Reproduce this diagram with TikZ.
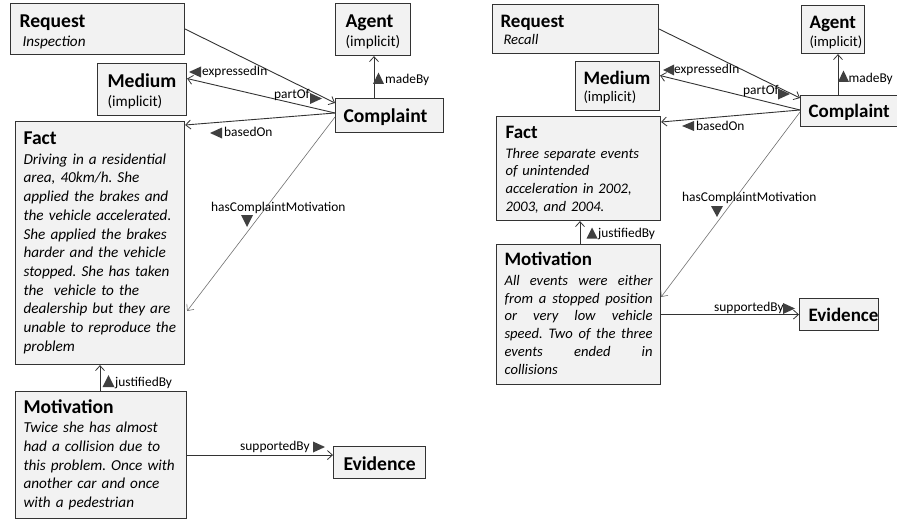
\documentclass[tikz,border=0pt]{standalone}
\usepackage{fontspec}
\setmainfont{Carlito}
\usetikzlibrary{arrows.meta}
\definecolor{boxf}{HTML}{F2F2F2}
\definecolor{bordc}{HTML}{333333}
\definecolor{linec}{HTML}{333333}
\definecolor{thinc}{HTML}{707070}
\definecolor{tric}{HTML}{404040}
\newcommand{\hdL}{\fontsize{19.6}{18.7}\selectfont\bfseries}
\newcommand{\hdR}{\fontsize{19}{17.7}\selectfont\bfseries}
\newcommand{\Ln}[1]{\mbox{#1}}
\newcommand{\Jn}[1]{\leavevmode\hbox to 148pt{\spaceskip=\fontdimen2\font plus 1fil\relax #1}}
\hyphenpenalty=10000
\exhyphenpenalty=10000
\frenchspacing
\tikzset{
  box/.style={draw=bordc, fill=boxf, line width=1.1pt, anchor=north west, inner ysep=0pt, align=left},
  fontL/.style={font=\fontsize{15.2}{18.7}\selectfont\frenchspacing},
  fontR/.style={font=\fontsize{14.6}{17.7}\selectfont\frenchspacing},
  conn/.style={draw=linec, line width=0.9pt, -{Straight Barb[length=5pt,width=9pt,line width=0.8pt]}},
  thinconn/.style={draw=thinc, line width=0.6pt, -{Straight Barb[length=5pt,width=9pt,line width=0.6pt]}},
  lbl/.style={font=\fontsize{13.4}{15}\selectfont, inner sep=0pt, anchor=base west, text=black},
  tri/.style={fill=tric}
}
\begin{document}
\begin{tikzpicture}[x=1pt,y=-1pt]
\path[use as bounding box, fill=white] (0,0) rectangle (897,519);

% ---------------- left panel ----------------
\node[box, fontL, inner xsep=9pt, text width=156pt, text height=24pt, text depth=27pt] (reqL) at (10,3)
  {\Ln{\hdL Request}\\\hspace*{3pt}\itshape Inspection};
\node[box, fontL, inner xsep=10pt, text width=55pt, text height=24pt, text depth=28pt] (agentL) at (335,3)
  {\Ln{\hdL Agent}\\\Ln{(implicit)}};
\node[box, fontL, inner xsep=10pt, text width=69pt, text height=24pt, text depth=28pt] (medL) at (97,63)
  {\Ln{\hdL Medium}\\\Ln{(implicit)}};
\node[box, fontL, inner xsep=8pt, text width=92pt, text height=23.5pt, text depth=10.5pt] (compL) at (335,98)
  {\Ln{\hdL Complaint}};
\node[box, fontL, inner xsep=8pt, text width=153pt, text height=23pt, text depth=220pt] (factL) at (15,121)
  {\Ln{\hdL Fact}\\[1pt]\itshape
   \Ln{Driving in a residential}\\
   \Ln{area, 40km/h. She}\\
   \Ln{applied the brakes and}\\
   \Ln{the vehicle accelerated.}\\
   \Ln{She applied the brakes}\\
   \Ln{harder and the vehicle}\\
   \Ln{stopped. She has taken}\\
   \Ln{the\ \ vehicle to the}\\
   \Ln{dealership but they are}\\
   \Ln{unable to reproduce the}\\
   \Ln{problem}};
\node[box, fontL, inner xsep=8pt, text width=155pt, text height=22pt, text depth=105pt] (motL) at (15,391)
  {\Ln{\hdL Motivation}\\[0.6pt]\itshape
   \Ln{Twice she has almost}\\
   \Ln{had a collision due to}\\
   \Ln{this problem. Once with}\\
   \Ln{another car and once}\\
   \Ln{with a pedestrian}};
\node[box, fontL, inner xsep=10pt, text width=72pt, text height=24pt, text depth=8pt] (evL) at (333,446)
  {\Ln{\hdL Evidence}};

% connectors left
\draw[conn] (reqL.east) -- ([yshift=-5pt]compL.north west);
\draw[conn] ([yshift=-15pt]compL.north west) -- ([yshift=11pt]medL.east);
\draw[conn] ([yshift=-15pt]compL.north west) -- ([yshift=-4pt]factL.north east);
\draw[thinconn] ([yshift=-19pt]compL.north west) -- ([yshift=-190pt,xshift=2pt]factL.north east);
\draw[conn] ([xshift=39pt]compL.north west) -- ([xshift=39pt]compL.north west |- agentL.south);
\draw[conn] ([xshift=85pt]motL.north west) -- ([xshift=85pt]motL.north west |- factL.south);
\draw[conn] (motL.east) -- (motL.east -| evL.west);

% labels left
\node[lbl] (l1) at (202,76) {expressedIn};
\node[lbl] (l2) at (274,98.5) {partOf};
\node[lbl] (l3) at (385,83.5) {madeBy};
\node[lbl] (l4) at (224,136.5) {basedOn};
\node[lbl] (l5) at (211,211.5) {hasComplaintMotivation};
\node[lbl] (l6) at (115,386.5) {justifiedBy};
\node[lbl] (l7) at (240,450.5) {supportedBy};
\fill[tri] (189,72) -- (201,66.5) -- (201,77.5) -- cycle;
\fill[tri] (322,98.5) -- (310,93) -- (310,104) -- cycle;
\fill[tri] (378.5,72.5) -- (373,84) -- (384,84) -- cycle;
\fill[tri] (210,133) -- (222,127.5) -- (222,138.5) -- cycle;
\fill[tri] (247,227) -- (241,215) -- (253,215) -- cycle;
\fill[tri] (108.5,375) -- (102.5,387) -- (114.5,387) -- cycle;
\fill[tri] (325,447) -- (313,441.5) -- (313,452.5) -- cycle;

% ---------------- right panel ----------------
\node[box, fontR, inner xsep=8pt, text width=150pt, text height=22.5pt, text depth=26.5pt] (reqR) at (492,4)
  {\Ln{\hdR Request}\\\hspace*{3pt}\itshape Recall};
\node[box, fontR, inner xsep=8pt, text width=47pt, text height=23pt, text depth=25pt] (agentR) at (801,5)
  {\Ln{\hdR Agent}\\\Ln{(implicit)}};
\node[box, fontR, inner xsep=8pt, text width=68pt, text height=22.5pt, text depth=26.5pt] (medR) at (575,61)
  {\Ln{\hdR Medium}\\\Ln{(implicit)}};
\node[box, fontR, inner xsep=8pt, text width=84pt, text height=21.7pt, text depth=9.3pt] (compR) at (800,95)
  {\Ln{\hdR Complaint}};
\node[box, fontR, inner xsep=9pt, text width=146pt, text height=22pt, text depth=82pt] (factR) at (496,116)
  {\Ln{\hdR Fact}\\[2pt]\itshape
   \Ln{Three separate events}\\
   \Ln{of unintended}\\
   \Ln{acceleration in 2002,}\\
   \Ln{2003, and 2004.}};
\node[box, fontR, inner xsep=8pt, text width=148pt, text height=21pt, text depth=119pt] (motR) at (496,244)
  {\Ln{\hdR Motivation}\\[2.3pt]\itshape
   \Jn{All events were either}\\
   \Jn{from a stopped position}\\
   \Jn{or very low vehicle}\\
   \Jn{speed. Two of the three}\\
   \Jn{events ended in}\\
   \Ln{collisions}};
\node[box, fontR, inner xsep=9pt, text width=61pt, text height=22.7pt, text depth=9.3pt] (evR) at (799,298)
  {\Ln{\hdR Evidence}};

% connectors right
\draw[conn] (reqR.east) -- ([yshift=-3pt]compR.north west);
\draw[conn] ([yshift=-15pt]compR.north west) -- ([yshift=10.5pt]medR.east);
\draw[conn] ([yshift=-15pt]compR.north west) -- ([yshift=-6pt]factR.north east);
\draw[thinconn] ([yshift=-17pt]compR.north west) -- ([yshift=-53pt]motR.north east);
\draw[conn] ([xshift=38pt]compR.north west) -- ([xshift=38pt]compR.north west |- agentR.south);
\draw[conn] ([xshift=84pt]motR.north west) -- ([xshift=84pt]motR.north west |- factR.south);
\draw[conn] (motR.east) -- (evR.west);

% labels right
\node[lbl] (r1) at (674,73.5) {expressedIn};
\node[lbl] (r2) at (743,94.5) {partOf};
\node[lbl] (r3) at (848.5,82) {madeBy};
\node[lbl] (r4) at (696,130.5) {basedOn};
\node[lbl] (r5) at (682,201.5) {hasComplaintMotivation};
\node[lbl] (r6) at (598,237.5) {justifiedBy};
\node[lbl] (r7) at (714,311.5) {supportedBy};
\fill[tri] (663,70) -- (674,64.5) -- (674,75.5) -- cycle;
\fill[tri] (790,94) -- (778,88.5) -- (778,99.5) -- cycle;
\fill[tri] (843.5,70.5) -- (838,82) -- (849,82) -- cycle;
\fill[tri] (682,126) -- (694,121) -- (694,131) -- cycle;
\fill[tri] (717,217) -- (711,206) -- (723,206) -- cycle;
\fill[tri] (592,227.5) -- (586.5,238.5) -- (597.5,238.5) -- cycle;
\fill[tri] (795,308.5) -- (783,303) -- (783,314) -- cycle;
\end{tikzpicture}
\end{document}
